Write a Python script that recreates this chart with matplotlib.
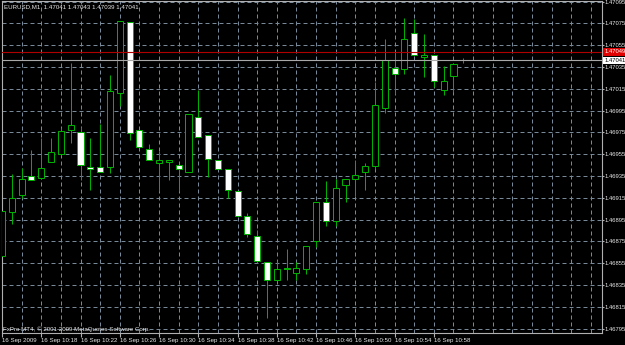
import matplotlib
matplotlib.use('Agg')
import matplotlib.pyplot as plt
import matplotlib.transforms as mtransforms
import numpy as np

# EURUSD M1 candles, 16 Sep 2009 10:14 .. 11:01
opens = [1.46862, 1.46902, 1.46918, 1.46935, 1.46933, 1.46948, 1.46955, 1.46977, 1.46975, 1.46943,
         1.46943, 1.46943, 1.47011, 1.47076, 1.46977, 1.46960, 1.46947, 1.46948, 1.46945, 1.46939,
         1.46989, 1.46973, 1.46950, 1.46941, 1.46921, 1.46898, 1.46880, 1.46856, 1.46840, 1.46851,
         1.46846, 1.46850, 1.46875, 1.46911, 1.46894, 1.46927, 1.46932, 1.46939, 1.46944, 1.46997,
         1.47034, 1.47033, 1.47066, 1.47044, 1.47046, 1.47014, 1.47027, 1.47041]
highs = [1.46903, 1.46937, 1.46942, 1.46959, 1.46970, 1.46970, 1.46979, 1.47039, 1.46980, 1.46970,
         1.46983, 1.47028, 1.47077, 1.47076, 1.46977, 1.46964, 1.46958, 1.46950, 1.46945, 1.46992,
         1.47014, 1.46973, 1.46950, 1.46941, 1.46921, 1.46901, 1.46885, 1.46856, 1.46857, 1.46868,
         1.46856, 1.46871, 1.46911, 1.46930, 1.46932, 1.46932, 1.46950, 1.46947, 1.47021, 1.47061,
         1.47049, 1.47080, 1.47079, 1.47065, 1.47046, 1.47036, 1.47038, 1.47043]
lows = [1.46831, 1.46891, 1.46915, 1.46931, 1.46932, 1.46948, 1.46954, 1.46965, 1.46931, 1.46922,
        1.46939, 1.46938, 1.46999, 1.46968, 1.46962, 1.46950, 1.46921, 1.46931, 1.46921, 1.46939,
        1.46971, 1.46934, 1.46941, 1.46915, 1.46898, 1.46879, 1.46855, 1.46805, 1.46839, 1.46840,
        1.46840, 1.46845, 1.46870, 1.46889, 1.46889, 1.46911, 1.46917, 1.46922, 1.46941, 1.46993,
        1.47010, 1.47029, 1.47046, 1.47026, 1.47017, 1.47009, 1.47012, 1.47039]
closes = [1.46903, 1.46915, 1.46932, 1.46931, 1.46942, 1.46957, 1.46976, 1.46982, 1.46945, 1.46941,
          1.46939, 1.47013, 1.47077, 1.46974, 1.46962, 1.46950, 1.46950, 1.46950, 1.46941, 1.46992,
          1.46971, 1.46951, 1.46941, 1.46922, 1.46898, 1.46882, 1.46857, 1.46840, 1.46850, 1.46850,
          1.46851, 1.46871, 1.46911, 1.46894, 1.46924, 1.46932, 1.46936, 1.46944, 1.47000, 1.47041,
          1.47029, 1.47061, 1.47046, 1.47046, 1.47022, 1.47022, 1.47038, 1.47041]

time_pos = [0, 4, 8, 12, 16, 20, 24, 28, 32, 36, 40, 44]
time_labels = ['16 Sep 2009', '16 Sep 10:18', '16 Sep 10:22', '16 Sep 10:26', '16 Sep 10:30',
               '16 Sep 10:34', '16 Sep 10:38', '16 Sep 10:42', '16 Sep 10:46', '16 Sep 10:50',
               '16 Sep 10:54', '16 Sep 10:58']
price_ticks = [1.46795, 1.46815, 1.46835, 1.46855, 1.46875, 1.46895, 1.46915, 1.46935,
               1.46955, 1.46975, 1.46995, 1.47015, 1.47035, 1.47055, 1.47075, 1.47095]
bid = 1.47041
ask = 1.47049

plt.rcParams['font.family'] = ['Liberation Sans', 'DejaVu Sans']

green = '#00B000'
grid_c = '#778899'
txt_c = '#E8E8E8'
fs = 4.4

fig = plt.figure(figsize=(6.25, 3.45), dpi=100, facecolor='black')
ax = fig.add_axes([2 / 625, 12 / 345, 600 / 625, 332 / 345], facecolor='black')

x = np.arange(len(opens))
o = np.array(opens)
c = np.array(closes)

# grid
for p in price_ticks:
    ax.axhline(p, color=grid_c, lw=0.72, ls=(0, (4, 3)), zorder=1)
for g in range(2, 62, 2):
    ax.axvline(g, color=grid_c, lw=0.72, ls=(0, (4, 3)), zorder=1)

# wicks and bodies
ax.vlines(x, lows, highs, color=green, lw=0.72, zorder=2)
bear = c < o
body_low = np.minimum(o, c)
body_h = np.abs(c - o)
ax.bar(x, body_h, bottom=body_low, width=0.62, color=np.where(bear, 'white', 'black'),
       edgecolor=green, linewidth=0.72, zorder=3)

# bid / ask lines
ax.axhline(ask, color='#B00000', lw=0.8, zorder=4)
ax.axhline(bid, color='#A8A8A8', lw=0.8, zorder=4)

ax.set_xlim(0.03, 61.13)
ax.set_ylim(1.467909, 1.470956)

for s in ax.spines.values():
    s.set_color('#B0B0B0')
    s.set_linewidth(0.8)

ax.yaxis.tick_right()
ax.set_yticks(price_ticks)
ax.set_yticklabels(['%.5f' % p for p in price_ticks])
ax.tick_params(axis='y', direction='out', length=1.5, pad=0.5, labelsize=4.2,
               colors='#B0B0B0', labelcolor=txt_c)
ax.set_xticks(time_pos)
ax.set_xticklabels(time_labels, ha='left')
ax.tick_params(axis='x', direction='out', length=3, pad=0.8, labelsize=fs,
               colors='#B0B0B0', labelcolor=txt_c)

# price labels on the right scale
trans = mtransforms.blended_transform_factory(ax.transAxes, ax.transData)
ax.text(1.004, ask, '%.5f' % ask, transform=trans, fontsize=4.2, color='white',
        va='center', ha='left', clip_on=False, zorder=6,
        bbox=dict(boxstyle='square,pad=0.25', fc='#E00000', ec='none'))
ax.text(1.004, bid, '%.5f' % bid, transform=trans, fontsize=4.2, color='black',
        va='center', ha='left', clip_on=False, zorder=6,
        bbox=dict(boxstyle='square,pad=0.25', fc='white', ec='none'))

fig.text(4 / 625, 1 - 7 / 345, 'EURUSD,M1  %.5f %.5f %.5f %.5f' % (opens[-1], highs[-1], lows[-1], closes[-1]),
         fontsize=fs, color=txt_c, va='center', ha='left')
fig.text(3 / 625, 1 - 329.5 / 345, 'FxPro MT4, © 2001-2009 MetaQuotes Software Corp.',
         fontsize=fs, color=txt_c, va='center', ha='left')

fig.savefig('out.png', dpi=100, facecolor='black')
